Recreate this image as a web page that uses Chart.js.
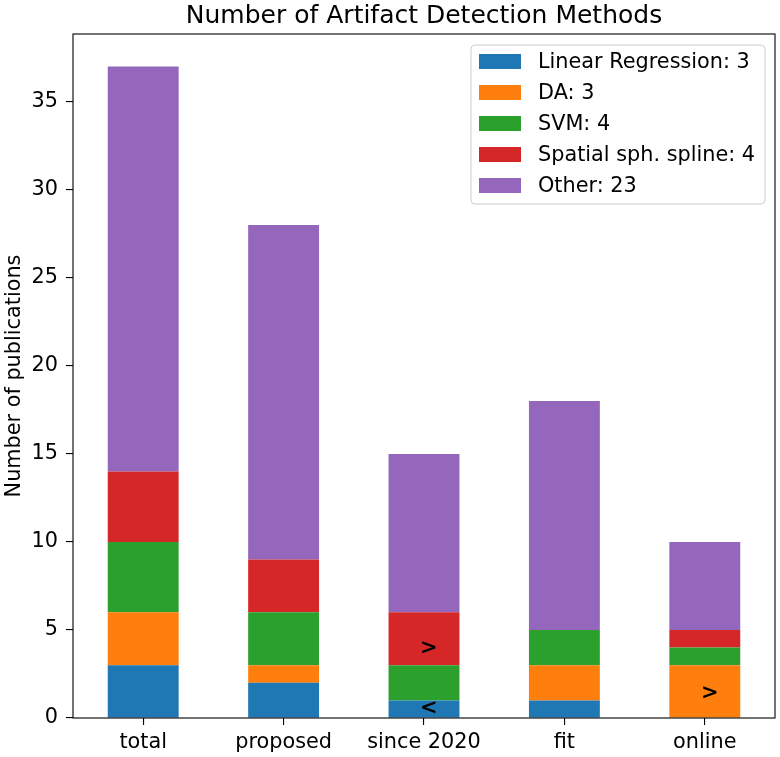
<!DOCTYPE html>
<html>
<head>
<meta charset="utf-8">
<script src="https://cdn.jsdelivr.net/npm/chart.js@4.4.0/dist/chart.umd.min.js"></script>
<style>
  html, body { margin: 0; padding: 0; background: #fff; }
  #wrap { width: 780px; height: 757px; }
</style>
</head>
<body>
<div id="wrap"><canvas id="c" width="780" height="757"></canvas></div>
<script>
// ---- data ----
const categories = ['total', 'proposed', 'since 2020', 'fit', 'online'];
const seriesNames = ['Linear Regression: 3', 'DA: 3', 'SVM: 4', 'Spatial sph. spline: 4', 'Other: 23'];
const linearRegression = [3, 2, 1, 1, 0];
const da = [3, 1, 0, 2, 3];
const svm = [4, 3, 2, 2, 1];
const spatialSpline = [4, 3, 3, 0, 1];
const other = [23, 19, 9, 13, 5];
const seriesColors = ['#1f77b4', '#ff7f0e', '#2ca02c', '#d62728', '#9467bd'];
const yTickValues = [0, 5, 10, 15, 20, 25, 30, 35];
const chartTitle = 'Number of Artifact Detection Methods';
const yAxisTitle = 'Number of publications';
// annotation glyphs drawn inside bars
const markCategory = [2, 2, 4];
const markValue = [0.55, 3.95, 1.4];
const markText = ['<', '>', '>'];

const FONT = '"DejaVu Sans", "Liberation Sans", sans-serif';
const seriesValues = [linearRegression, da, svm, spatialSpline, other];
const yMax = Math.max(...categories.map((_, i) => seriesValues.reduce((s, a) => s + a[i], 0))) * 1.05;

const datasets = seriesValues.map((vals, k) => ({
  label: seriesNames[k],
  data: vals,
  backgroundColor: seriesColors[k],
  borderWidth: 0,
  barPercentage: 0.505,
  categoryPercentage: 1.0
}));

const framePlugin = {
  id: 'frame',
  afterDraw(chart) {
    const ctx = chart.ctx;
    const a = chart.chartArea;
    ctx.save();
    // annotations
    const xs = chart.scales.x, ys = chart.scales.y;
    const catW = (a.right - a.left) / categories.length;
    ctx.fillStyle = '#000';
    ctx.font = 'bold 21px ' + FONT;
    ctx.textAlign = 'center';
    ctx.textBaseline = 'middle';
    markText.forEach((t, i) => {
      const x = xs.getPixelForValue(markCategory[i]) + 0.035 * catW;
      const y = ys.getPixelForValue(markValue[i]);
      ctx.fillText(t, x, y);
    });
    // spines
    ctx.strokeStyle = '#000';
    ctx.lineWidth = 1.1;
    ctx.strokeRect(a.left, a.top, a.right - a.left, a.bottom - a.top);
    // title
    ctx.font = '25px ' + FONT;
    ctx.textAlign = 'center';
    ctx.textBaseline = 'alphabetic';
    ctx.fillText(chartTitle, (a.left + a.right) / 2, a.top - 11.5);
    // legend
    const lx = a.right - 304, ly = a.top + 11, lw = 294, lh = 159;
    ctx.beginPath();
    if (ctx.roundRect) ctx.roundRect(lx, ly, lw, lh, 4); else ctx.rect(lx, ly, lw, lh);
    ctx.fillStyle = 'rgba(255,255,255,0.8)';
    ctx.fill();
    ctx.strokeStyle = '#cccccc';
    ctx.lineWidth = 1;
    ctx.stroke();
    ctx.font = '20.8px ' + FONT;
    ctx.textAlign = 'left';
    ctx.textBaseline = 'middle';
    chart.data.datasets.forEach((ds, i) => {
      const cy = ly + 16.5 + i * 31;
      ctx.fillStyle = ds.backgroundColor;
      ctx.fillRect(lx + 8, cy - 7.5, 42, 15);
      ctx.fillStyle = '#000';
      ctx.fillText(ds.label, lx + 67, cy + 1);
    });
    ctx.restore();
  }
};

new Chart(document.getElementById('c'), {
  type: 'bar',
  data: { labels: categories, datasets },
  options: {
    responsive: false,
    animation: false,
    devicePixelRatio: 1,
    layout: { padding: { top: 34, right: 5, left: 0, bottom: 0 } },
    plugins: {
      legend: { display: false },
      title: { display: false },
      tooltip: { enabled: false }
    },
    scales: {
      x: {
        stacked: true,
        offset: true,
        border: { display: false },
        grid: { display: true, drawOnChartArea: false, drawTicks: true, tickLength: 7, color: '#000', lineWidth: 1.1, offset: false },
        ticks: { color: '#000', font: { family: FONT, size: 20.8 }, padding: 5, maxRotation: 0, autoSkip: false },
        afterFit(s) { s.height = 39; }
      },
      y: {
        stacked: true,
        min: 0,
        max: yMax,
        border: { display: false },
        grid: { display: true, drawOnChartArea: false, drawTicks: true, tickLength: 7, color: '#000', lineWidth: 1.1 },
        ticks: {
          color: '#000', font: { family: FONT, size: 20.8 }, padding: 8,
          stepSize: 5, includeBounds: false,
          callback: (v) => yTickValues.includes(v) ? String(v) : null
        },
        title: { display: true, text: yAxisTitle, color: '#000', font: { family: FONT, size: 20.8 }, padding: { top: 2, bottom: 0 } },
        afterFit(s) { s.width = 73; }
      }
    }
  },
  plugins: [framePlugin]
});
</script>
</body>
</html>
